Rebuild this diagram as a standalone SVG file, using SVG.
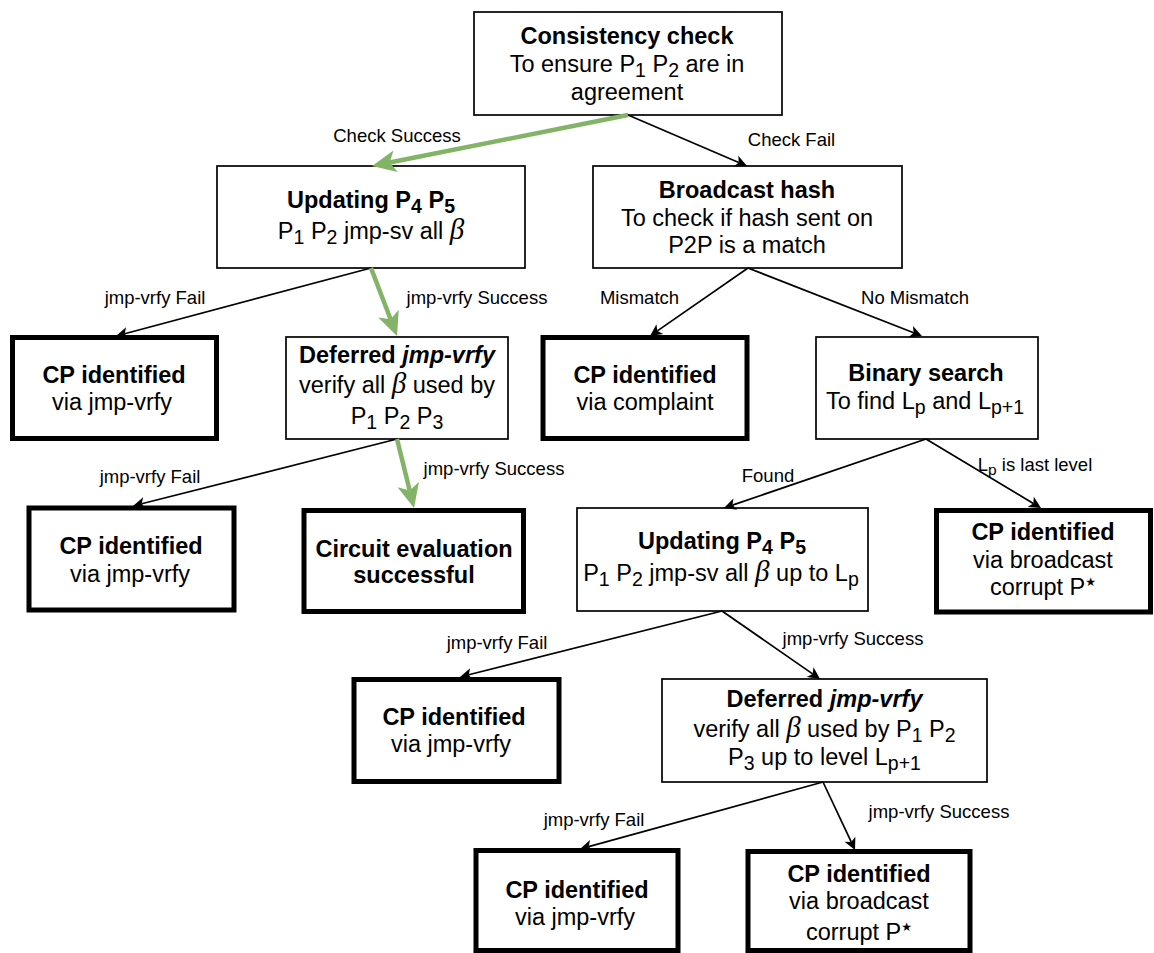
<svg xmlns="http://www.w3.org/2000/svg" width="1154" height="953" viewBox="0 0 1154 953">
  <style>
    .box{fill:#fff;stroke:#000;stroke-width:1.7}
    .term{fill:#fff;stroke:#000;stroke-width:5}
    .t{font-family:"Liberation Sans",Arial,Helvetica,sans-serif;font-size:23.5px;text-anchor:middle;fill:#000}
    .b{font-weight:bold}
    .s{font-size:19.5px}
    .ls{font-size:15.5px}
    .beta{font-family:"Liberation Serif","Times New Roman",serif;font-style:italic;font-size:29px;font-weight:normal}
    .star{font-family:"DejaVu Sans",sans-serif;font-size:12px}
    .lbl{font-family:"Liberation Sans",Arial,Helvetica,sans-serif;font-size:18.5px;text-anchor:middle;fill:#000}
    .edge{fill:none;stroke:#000;stroke-width:1.7;marker-end:url(#ah)}
    .ok{fill:none;stroke:#82b366;stroke-width:4.5;marker-end:url(#ahg)}
  </style>
  <defs>
    <marker id="ah" markerUnits="userSpaceOnUse" viewBox="-4 -7 14 14" markerWidth="14" markerHeight="14" refX="0" refY="0" orient="auto">
      <path d="M9,0 L-3,-6 L0,0 L-3,6 Z" fill="#000"/>
    </marker>
    <marker id="ahg" markerUnits="userSpaceOnUse" viewBox="-7 -12 26 24" markerWidth="26" markerHeight="24" refX="0" refY="0" orient="auto">
      <path d="M18,0 L-6,-11 L0,0 L-6,11 Z" fill="#82b366"/>
    </marker>
  </defs>
  <rect width="1154" height="953" fill="#fff"/>

  <g id="consistency-check">
    <rect class="box" x="474" y="12" width="308" height="103"/>
    <text class="t b" x="627" y="44">Consistency check</text>
    <text class="t" x="627" y="72">To ensure P<tspan class="s" dy="5">1</tspan><tspan dy="-5"> P</tspan><tspan class="s" dy="5">2</tspan><tspan dy="-5"> are in</tspan></text>
    <text class="t" x="627" y="100">agreement</text>
  </g>

  <g id="updating-1">
    <rect class="box" x="217" y="166" width="308" height="102"/>
    <text class="t b" x="371" y="208">Updating P<tspan class="s" dy="5">4</tspan><tspan dy="-5"> P</tspan><tspan class="s" dy="5">5</tspan></text>
    <text class="t" x="371" y="239">P<tspan class="s" dy="5">1</tspan><tspan dy="-5"> P</tspan><tspan class="s" dy="5">2</tspan><tspan dy="-5"> jmp-sv all </tspan><tspan class="beta">β</tspan></text>
  </g>

  <g id="broadcast-hash">
    <rect class="box" x="593" y="166" width="309" height="102"/>
    <text class="t b" x="747" y="198">Broadcast hash</text>
    <text class="t" x="747" y="226">To check if hash sent on</text>
    <text class="t" x="747" y="253">P2P is a match</text>
  </g>

  <g id="cp-vrfy-1">
    <rect class="term" x="12.5" y="337.5" width="204" height="101"/>
    <text class="t b" x="114" y="383">CP identified</text>
    <text class="t" x="112" y="410">via jmp-vrfy</text>
  </g>

  <g id="deferred-1">
    <rect class="box" x="286" y="337" width="222" height="102"/>
    <text class="t b" x="397" y="363">Deferred <tspan font-style="italic">jmp-vrfy</tspan></text>
    <text class="t" x="397" y="393">verify all <tspan class="beta">β</tspan> used by</text>
    <text class="t" x="397" y="424">P<tspan class="s" dy="5">1</tspan><tspan dy="-5"> P</tspan><tspan class="s" dy="5">2</tspan><tspan dy="-5"> P</tspan><tspan class="s" dy="5">3</tspan></text>
  </g>

  <g id="cp-complaint">
    <rect class="term" x="543" y="337.5" width="204" height="101"/>
    <text class="t b" x="645" y="383">CP identified</text>
    <text class="t" x="645" y="410">via complaint</text>
  </g>

  <g id="binary-search">
    <rect class="box" x="816" y="337" width="222" height="102"/>
    <text class="t b" x="926" y="381">Binary search</text>
    <text class="t" x="925" y="409">To find L<tspan class="s" dy="5">p</tspan><tspan dy="-5"> and L</tspan><tspan class="s" dy="5">p+1</tspan></text>
  </g>

  <g id="cp-vrfy-2">
    <rect class="term" x="29" y="508" width="205" height="102"/>
    <text class="t b" x="131" y="554">CP identified</text>
    <text class="t" x="130" y="581.5">via jmp-vrfy</text>
  </g>

  <g id="circuit-success">
    <rect class="term" x="304" y="510.5" width="219.5" height="101"/>
    <text class="t b" x="414" y="556.5">Circuit evaluation</text>
    <text class="t b" x="414" y="583">successful</text>
  </g>

  <g id="updating-2">
    <rect class="box" x="577" y="508" width="291" height="103"/>
    <text class="t b" x="722" y="549">Updating P<tspan class="s" dy="5">4</tspan><tspan dy="-5"> P</tspan><tspan class="s" dy="5">5</tspan></text>
    <text class="t" x="721" y="581">P<tspan class="s" dy="5">1</tspan><tspan dy="-5"> P</tspan><tspan class="s" dy="5">2</tspan><tspan dy="-5"> jmp-sv all </tspan><tspan class="beta">β</tspan> up to L<tspan class="s" dy="5">p</tspan></text>
  </g>

  <g id="cp-broadcast-1">
    <rect class="term" x="936.5" y="510.5" width="214" height="101.5"/>
    <text class="t b" x="1043" y="540">CP identified</text>
    <text class="t" x="1043" y="568">via broadcast</text>
    <text class="t" x="1043" y="595">corrupt P<tspan class="star" dy="-9">★</tspan></text>
  </g>

  <g id="cp-vrfy-3">
    <rect class="term" x="354" y="679.5" width="205" height="102"/>
    <text class="t b" x="454" y="725">CP identified</text>
    <text class="t" x="451" y="752">via jmp-vrfy</text>
  </g>

  <g id="deferred-2">
    <rect class="box" x="662" y="679" width="325" height="103"/>
    <text class="t b" x="824.5" y="707">Deferred <tspan font-style="italic">jmp-vrfy</tspan></text>
    <text class="t" x="824.5" y="736.5">verify all <tspan class="beta">β</tspan> used by P<tspan class="s" dy="5">1</tspan><tspan dy="-5"> P</tspan><tspan class="s" dy="5">2</tspan></text>
    <text class="t" x="824.5" y="765">P<tspan class="s" dy="5">3</tspan><tspan dy="-5"> up to level L</tspan><tspan class="s" dy="5">p+1</tspan></text>
  </g>

  <g id="cp-vrfy-4">
    <rect class="term" x="476" y="850.5" width="202" height="100"/>
    <text class="t b" x="577" y="898">CP identified</text>
    <text class="t" x="575" y="925">via jmp-vrfy</text>
  </g>

  <g id="cp-broadcast-2">
    <rect class="term" x="748" y="851.5" width="222" height="99"/>
    <text class="t b" x="859" y="881.5">CP identified</text>
    <text class="t" x="859" y="908.5">via broadcast</text>
    <text class="t" x="859" y="940">corrupt P<tspan class="star" dy="-9">★</tspan></text>
  </g>

  <g id="connectors">
    <path class="ok" d="M628,115 L389.7,162.5"/>
    <path class="edge" d="M628,115 L738.7,162.5"/>
    <path class="edge" d="M371,268 L124.7,333.7"/>
    <path class="ok" d="M371,268 L390.6,319.2"/>
    <path class="edge" d="M748,268 L657.4,330.9"/>
    <path class="edge" d="M748,268 L913.6,332.7"/>
    <path class="edge" d="M397,439 L141.7,503.8"/>
    <path class="ok" d="M397,439 L409.7,490.5"/>
    <path class="edge" d="M926,439 L732.5,505.1"/>
    <path class="edge" d="M926,439 L1033.3,503.4"/>
    <path class="edge" d="M722,611 L468.7,674.8"/>
    <path class="edge" d="M722,611 L812.6,673.9"/>
    <path class="edge" d="M823,782 L588.7,846.6"/>
    <path class="edge" d="M823,782 L851.2,841.9"/>

    <text class="lbl" x="397" y="142">Check Success</text>
    <text class="lbl" x="791.5" y="145.5">Check Fail</text>
    <text class="lbl" x="155" y="304">jmp-vrfy Fail</text>
    <text class="lbl" x="477" y="303.5">jmp-vrfy Success</text>
    <text class="lbl" x="639.5" y="304">Mismatch</text>
    <text class="lbl" x="915" y="304">No Mismatch</text>
    <text class="lbl" x="150" y="482.5">jmp-vrfy Fail</text>
    <text class="lbl" x="494" y="475">jmp-vrfy Success</text>
    <text class="lbl" x="768" y="482">Found</text>
    <text class="lbl" x="1035" y="471" text-anchor="start">L<tspan class="ls" dy="4">p</tspan><tspan dy="-4"> is last level</tspan></text>
    <text class="lbl" x="497" y="649">jmp-vrfy Fail</text>
    <text class="lbl" x="853" y="645">jmp-vrfy Success</text>
    <text class="lbl" x="594" y="826">jmp-vrfy Fail</text>
    <text class="lbl" x="939" y="818">jmp-vrfy Success</text>
  </g>
</svg>
